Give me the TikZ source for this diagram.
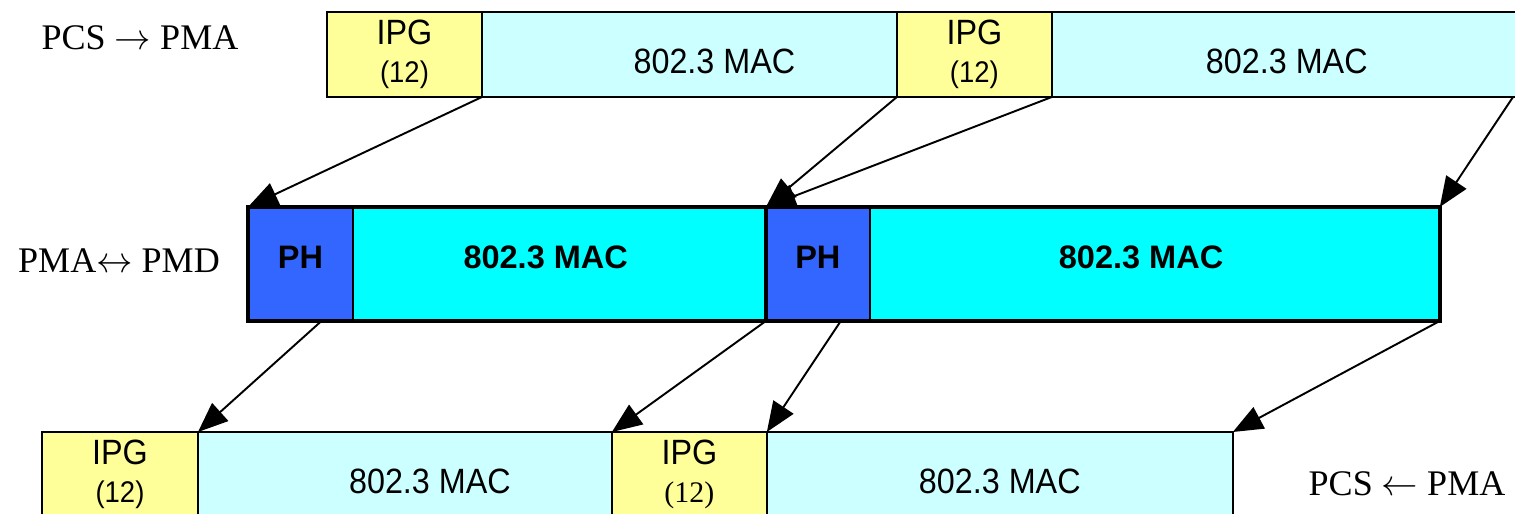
\documentclass[tikz,border=0pt]{standalone}
\usepackage{fontspec}
\setmainfont{Liberation Serif}
\setsansfont{Liberation Sans}
\newfontfamily\narrowsans{Liberation Sans}[FakeStretch=0.92]
\usetikzlibrary{arrows.meta,positioning,calc}
\definecolor{ipgyellow}{RGB}{255,255,153}
\definecolor{macpale}{RGB}{204,255,255}
\definecolor{maccyan}{RGB}{0,255,255}
\definecolor{phblue}{RGB}{51,102,255}
\tikzset{
  seg/.style={draw=black,line width=1.1pt,outer sep=0pt,inner sep=0pt,
              minimum height=1.7cm,font=\narrowsans\fontsize{20}{21.6}\selectfont},
  ipgbox/.style={seg,fill=ipgyellow,minimum width=3.1cm,align=center},
  macbox/.style={seg,fill=macpale,text height=0.745cm,text depth=0pt},
  wire/.style={draw=black,line width=1pt,outer sep=0pt,inner sep=0pt,
               minimum height=2.28cm,text height=0.193cm,text depth=0pt,
               font=\sffamily\bfseries\fontsize{18.5}{20}\selectfont},
  phbox/.style={wire,fill=phblue,minimum width=2.1cm},
  wmacbox/.style={wire,fill=maccyan},
  wireframe/.style={draw=black,line width=2.3pt},
  mapto/.style={-{Triangle[length=6mm,width=4.8mm]},draw=black,line width=1.1pt},
  lyr/.style={font=\fontsize{20.5}{22}\selectfont,inner sep=0pt},
}
\begin{document}
\begin{tikzpicture}[x=0.02cm,y=-0.02cm]
  \useasboundingbox (0,0) rectangle (1515,514);
  % PCS -> PMA row
  \node[ipgbox,anchor=north west] (ipgA) at (327,12)
    {IPG\\{\fontsize{17}{21.6}\selectfont(12)}};
  \node[macbox,minimum width=8.3cm,right=0pt of ipgA] (macA) {\hspace*{1cm}802.3 MAC};
  \node[ipgbox,right=0pt of macA] (ipgB)
    {IPG\\{\fontsize{17}{21.6}\selectfont(12)}};
  \node[macbox,minimum width=9.4cm,right=0pt of ipgB] (macB) {802.3 MAC};
  % PMA <-> PMD row
  \node[phbox,anchor=north west] (phA) at (248,207) {PH};
  \node[wmacbox,minimum width=8.26cm,right=0pt of phA] (macC) {802.3 MAC\hspace*{0.55cm}};
  \node[phbox,minimum width=2.08cm,right=0pt of macC] (phB) {PH};
  \node[wmacbox,minimum width=11.4cm,right=0pt of phB] (macD) {802.3 MAC\hspace*{0.55cm}};
  \draw[wireframe] (phA.north west) rectangle (macD.south east);
  \draw[wireframe] (phB.north west) -- (phB.south west);
  % PCS <- PMA row
  \node[ipgbox,minimum width=3.12cm,anchor=north west] (ipgC) at (42,432)
    {IPG\\{\fontsize{17}{21.6}\selectfont(12)}};
  \node[macbox,minimum width=8.28cm,right=0pt of ipgC] (macE) {\hspace*{1cm}802.3 MAC};
  \node[ipgbox,right=0pt of macE] (ipgD)
    {IPG\\{\rmfamily\fontsize{17}{21.6}\selectfont(12)}};
  \node[macbox,minimum width=9.32cm,right=0pt of ipgD] (macF) {802.3 MAC};
  % layer names
  \node[lyr] (pcsdown) at (140,38) {PCS $\rightarrow$ PMA};
  \node[lyr] (pmapmd) at (119,261) {PMA$\leftrightarrow$ PMD};
  \node[lyr] (pcsup) at (1407,484) {PCS $\leftarrow$ PMA};
  % mapping
  \coordinate (topend) at (1513,97);
  \draw[mapto] (ipgA.south east) -- (phA.north west);
  \draw[mapto] (macA.south east) -- (phB.north west);
  \draw[mapto] (ipgB.south east) -- (phB.north west);
  \draw[mapto] (topend) -- (macD.north east);
  \draw[mapto] ($(phA.south west)!0.7!(phA.south east)$) -- (ipgC.north east);
  \draw[mapto] (macC.south east) -- (ipgD.north west);
  \draw[mapto] ($(phB.south west)!0.72!(phB.south east)$) -- (ipgD.north east);
  \draw[mapto] (macD.south east) -- (macF.north east);
\end{tikzpicture}
\end{document}
